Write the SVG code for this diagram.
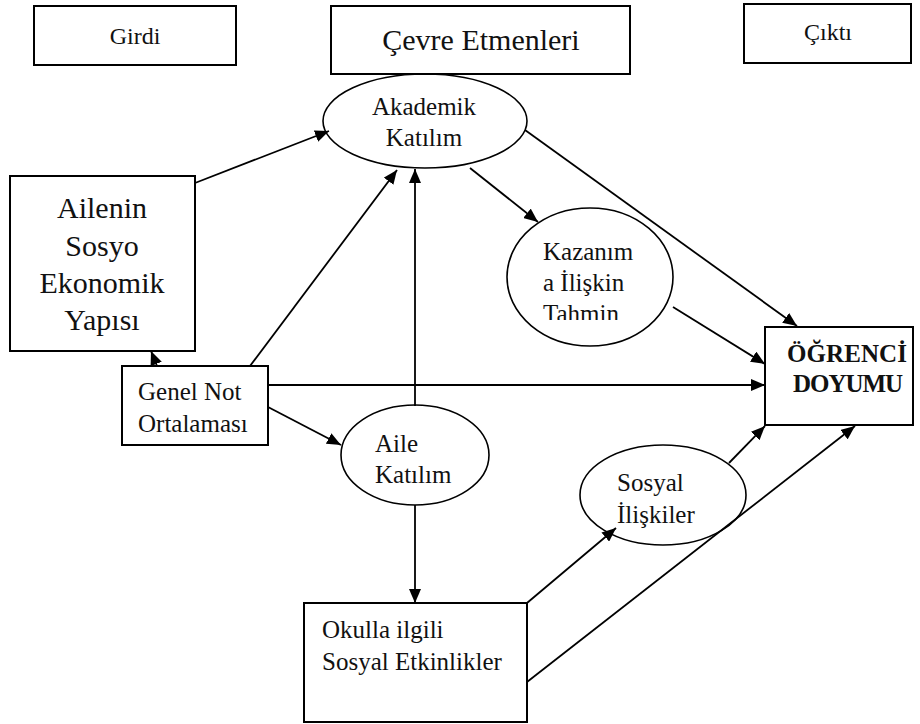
<svg xmlns="http://www.w3.org/2000/svg" width="920" height="724" viewBox="0 0 920 724">
<style>
  .box { fill: #fff; stroke: #000; stroke-width: 2; }
  .ell { fill: none; stroke: #000; stroke-width: 1.6; }
  text { font-family: 'Liberation Serif', 'Tinos', 'DejaVu Serif', serif; fill: #111; font-size: 25px; }
  .b { font-weight: bold; }
  .c { text-anchor: middle; }
  .s24 { font-size: 24px; }
  .s30 { font-size: 30px; }
  .conn line { stroke: #000; stroke-width: 1.8; marker-end: url(#ah); }
</style>
<defs>
  <marker id="ah" markerUnits="userSpaceOnUse" markerWidth="14" markerHeight="12" refX="14" refY="6" orient="auto">
    <path d="M0,0 L14,6 L0,12 z" fill="#000"/>
  </marker>
  <clipPath id="kclip"><rect x="500" y="200" width="180" height="120"/></clipPath>
</defs>
<rect width="920" height="724" fill="#fff"/>

<g id="girdi">
  <rect class="box" x="34" y="6" width="202" height="59"/>
  <text class="c s24" x="135" y="44" font-family="Liberation Serif, serif">Girdi</text>
</g>
<g id="cevre">
  <rect class="box" x="331" y="6" width="299" height="68"/>
  <text class="c s30" x="481" y="50" font-family="Liberation Serif, serif">Çevre Etmenleri</text>
</g>
<g id="cikti">
  <rect class="box" x="744" y="4" width="167" height="59"/>
  <text class="c s24" x="828" y="40" font-family="Liberation Serif, serif">Çıktı</text>
</g>

<g id="conns" class="conn">
  <line x1="195" y1="183" x2="329" y2="131"/>
  <line x1="157" y1="366" x2="151" y2="351"/>
  <line x1="250" y1="366" x2="397" y2="170"/>
  <line x1="415" y1="406" x2="415" y2="169"/>
  <line x1="470" y1="168" x2="538" y2="222"/>
  <line x1="525" y1="130" x2="797" y2="326"/>
  <line x1="673" y1="307" x2="765" y2="364"/>
  <line x1="268" y1="385" x2="765" y2="385"/>
  <line x1="268" y1="407" x2="341" y2="445"/>
  <line x1="415" y1="505" x2="415" y2="603"/>
  <line x1="527" y1="603" x2="616" y2="528"/>
  <line x1="527" y1="682" x2="855" y2="426"/>
  <line x1="729" y1="463" x2="765" y2="426"/>
</g>

<g id="akademik">
  <ellipse class="ell" cx="425" cy="121" rx="102" ry="47"/>
  <text class="c" x="424" y="115">Akademik</text>
  <text class="c" x="424" y="146">Katılım</text>
</g>
<g id="ailenin">
  <rect class="box" x="10" y="176" width="185" height="175"/>
  <text class="c s30" x="102" y="218">Ailenin</text>
  <text class="c s30" x="102" y="256">Sosyo</text>
  <text class="c s30" x="102" y="293">Ekonomik</text>
  <text class="c s30" x="102" y="330">Yapısı</text>
</g>
<g id="kazanim">
  <ellipse class="ell" cx="590" cy="277" rx="83" ry="69"/>
  <g clip-path="url(#kclip)">
    <text x="543" y="260">Kazanım</text>
    <text x="543" y="291">a İlişkin</text>
    <text x="543" y="322">Tahmin</text>
  </g>
</g>
<g id="genel">
  <rect class="box" x="122" y="366" width="146" height="79"/>
  <text x="138" y="400">Genel Not</text>
  <text x="138" y="432">Ortalaması</text>
</g>
<g id="ogrenci">
  <rect class="box" x="765" y="327" width="148" height="98"/>
  <text class="b" x="787" y="362" textLength="120">ÖĞRENCİ</text>
  <text class="b" x="793" y="392" textLength="110">DOYUMU</text>
</g>
<g id="aile">
  <ellipse class="ell" cx="415" cy="455" rx="74" ry="50"/>
  <text x="375" y="452">Aile</text>
  <text x="375" y="483">Katılım</text>
</g>
<g id="sosyal">
  <ellipse class="ell" cx="663" cy="495" rx="83" ry="50"/>
  <text x="617" y="491">Sosyal</text>
  <text x="617" y="523">İlişkiler</text>
</g>
<g id="okulla">
  <rect class="box" x="304" y="603" width="223" height="119"/>
  <text x="322" y="638">Okulla ilgili</text>
  <text x="322" y="670">Sosyal Etkinlikler</text>
</g>
</svg>
